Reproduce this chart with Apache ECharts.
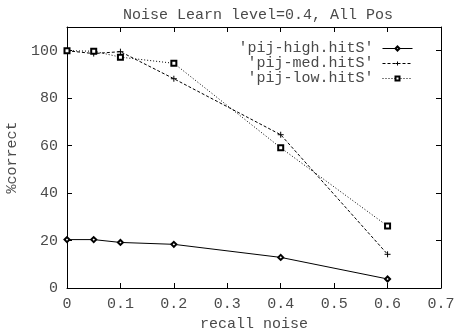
<!DOCTYPE html>
<html>
<head>
<meta charset="utf-8">
<script src="https://cdn.jsdelivr.net/npm/echarts@6/dist/echarts.min.js"></script>
<style>
  html, body { margin: 0; padding: 0; background: #fff; }
  #chart { width: 454px; height: 333px; }
</style>
</head>
<body>
<div id="chart"></div>
<script>
const xNoise = [0, 0.05, 0.1, 0.2, 0.4, 0.6];
const highHits = [20.4, 20.4, 19.2, 18.4, 12.9, 3.8];
const medHits = [100, 98.8, 99.6, 88.2, 64.6, 14.2];
const lowHits = [100, 99.8, 97.3, 94.7, 59.1, 26.1];
const seriesNames = ["'pij-high.hitS'", "'pij-med.hitS'", "'pij-low.hitS'"];
const yTicks = [0, 20, 40, 60, 80, 100];

const FONT = "Liberation Mono";
const ink = "#4a4a4a";
const plus = "path://M0,5L10,5M5,0L5,10";

const pairs = (ys) => xNoise.map((x, i) => [x, ys[i]]);

const chart = echarts.init(document.getElementById("chart"), null, { renderer: "canvas" });

const axisCommon = {
  axisLine: { show: true, onZero: false, lineStyle: { color: "#000", width: 1 } },
  axisTick: { show: true, inside: true, length: 5, lineStyle: { color: "#000" } },
  splitLine: { show: false },
};
// only label the ticks gnuplot showed (no 110 at the top border)
const yLabel = (v) => (yTicks.includes(v) ? String(v) : "");

chart.setOption({
  animation: false,
  backgroundColor: "#fff",
  textStyle: { fontFamily: FONT },
  title: {
    text: "Noise Learn level=0.4, All Pos",
    left: 253,
    textAlign: "center",
    top: 3,
    textStyle: { fontFamily: FONT, fontSize: 15, fontWeight: "normal", color: ink },
  },
  legend: {
    orient: "vertical",
    right: 36,
    top: 36,
    align: "right",
    itemGap: 0,
    itemWidth: 30,
    itemHeight: 5,
    lineStyle: { width: 1 },
    itemStyle: { borderWidth: 1 },
    textStyle: { fontFamily: FONT, fontSize: 15, color: ink, padding: [0, 4, 0, 0] },
    data: seriesNames,
  },
  grid: { left: 67, right: 13, top: 27, bottom: 45, outerBoundsMode: "none" },
  xAxis: [
    {
      ...axisCommon,
      type: "value",
      min: 0,
      max: 0.7,
      interval: 0.1,
      name: "recall noise",
      nameLocation: "middle",
      nameGap: 25,
      nameTextStyle: { fontFamily: FONT, fontSize: 15, color: ink },
      axisLabel: { fontFamily: FONT, fontSize: 15, color: ink, margin: 9 },
    },
    {
      ...axisCommon,
      type: "value",
      position: "top",
      min: 0,
      max: 0.7,
      interval: 0.1,
      axisLabel: { show: false },
    },
  ],
  yAxis: [
    {
      ...axisCommon,
      type: "value",
      min: 0,
      max: 110,
      interval: 20,
      name: "%correct",
      nameLocation: "middle",
      nameGap: 47,
      nameTextStyle: { fontFamily: FONT, fontSize: 15, color: ink },
      axisLabel: { fontFamily: FONT, fontSize: 15, color: ink, margin: 9, formatter: yLabel },
    },
    {
      ...axisCommon,
      type: "value",
      position: "right",
      min: 0,
      max: 110,
      interval: 20,
      axisLabel: { show: false },
    },
  ],
  series: [
    {
      name: seriesNames[0],
      type: "line",
      data: pairs(highHits),
      symbol: "emptyDiamond",
      symbolSize: 5,
      lineStyle: { color: "#000", width: 1 },
      itemStyle: { color: "#000", borderColor: "#000", borderWidth: 1 },
    },
    {
      name: seriesNames[1],
      type: "line",
      data: pairs(medHits),
      symbol: plus,
      symbolSize: 6,
      lineStyle: { color: "#000", width: 1, type: [3, 2] },
      itemStyle: { color: "#000", borderColor: "#000", borderWidth: 1 },
    },
    {
      name: seriesNames[2],
      type: "line",
      data: pairs(lowHits),
      symbol: "emptyRect",
      symbolSize: 5,
      lineStyle: { color: "#000", width: 1, type: [1, 2] },
      itemStyle: { color: "#000", borderColor: "#000", borderWidth: 1 },
    },
  ],
});
</script>
</body>
</html>
